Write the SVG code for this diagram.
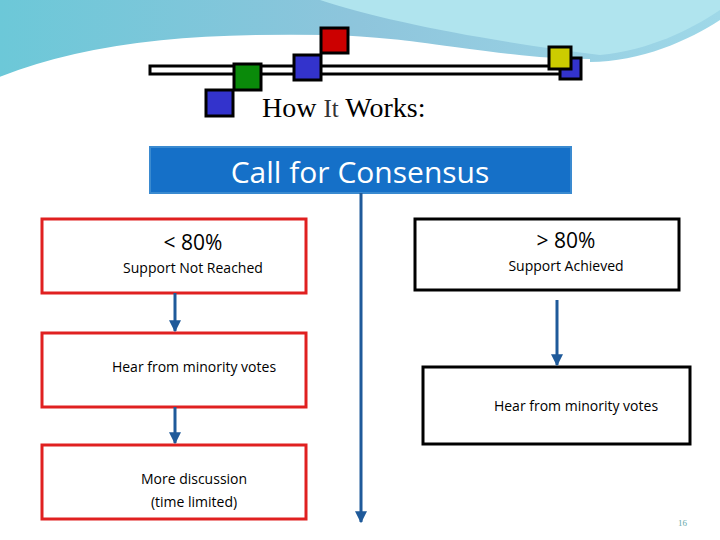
<svg xmlns="http://www.w3.org/2000/svg" width="720" height="540" viewBox="0 0 720 540">
<defs>
<linearGradient id="sky" x1="0" y1="0" x2="1" y2="0"><stop offset="0" stop-color="#6cc8d8"/><stop offset="0.5" stop-color="#8ec5dc"/><stop offset="1" stop-color="#9fd8e8"/></linearGradient>
<marker id="ah" viewBox="0 0 10 10" refX="9" refY="5" markerWidth="4" markerHeight="4" orient="auto"><path d="M0,0L10,5L0,10z" fill="#1f5a9a"/></marker>
</defs>
<style>
.rb{fill:#fff;stroke:#e02020;stroke-width:3}
.kb{fill:#fff;stroke:#000;stroke-width:3}
.t{font-family:"Open Sans","Liberation Sans",sans-serif;fill:#000}
.sq{stroke:#000;stroke-width:3}
.c{stroke:#1f5a9a;stroke-width:3;fill:none;marker-end:url(#ah)}
</style>
<rect width="720" height="540" fill="#fff"/>
<path d="M0,0H720V20C690,40 640,62 590,62C500,62 420,40 330,38C220,36 100,40 0,80Z" fill="url(#sky)"/>
<path d="M0,80C100,40 220,36 330,38C420,40 500,62 590,62" fill="none" stroke="#fff" stroke-width="6"/>
<path d="M320,0C380,20 480,40 600,55C650,50 690,30 720,10V0Z" fill="#b0e4ee"/>
<g id="header">
<rect x="150" y="66" width="422" height="8" fill="#fff" stroke="#000" stroke-width="3"/>
<rect class="sq" x="206" y="90" width="27" height="26" fill="#3333cc"/>
<rect class="sq" x="234" y="64" width="27" height="26" fill="#0a8a0a"/>
<rect class="sq" x="294" y="55" width="27" height="25" fill="#3333cc"/>
<rect class="sq" x="321" y="28" width="27" height="25" fill="#cc0000"/>
<rect class="sq" x="560" y="58" width="21" height="21" fill="#3333cc"/>
<rect class="sq" x="549" y="47" width="22" height="22" fill="#cccc00"/>
<text x="262" y="117" font-family="Liberation Serif,serif" font-size="28" fill="#000">How <tspan fill="#333" font-size="25">It</tspan> Works:</text>
</g>
<g id="consensus"><rect x="150" y="147" width="421" height="46" fill="#1570c8" stroke="#3a8ad0" stroke-width="2"/>
<text class="t" x="360" y="183" font-size="30" text-anchor="middle" fill="#fff" style="fill:#fff">Call for Consensus</text></g>
<g id="lt80"><rect class="rb" x="42" y="219" width="264" height="74"/>
<text class="t" x="193" y="250" font-size="21" text-anchor="middle">&lt; 80%</text>
<text class="t" x="193" y="273" font-size="14" text-anchor="middle">Support Not Reached</text></g>
<g id="hear1"><rect class="rb" x="42" y="333" width="264" height="74"/>
<text class="t" x="194" y="372" font-size="14" text-anchor="middle">Hear from minority votes</text></g>
<g id="more"><rect class="rb" x="42" y="445" width="264" height="74"/>
<text class="t" x="194" y="484" font-size="14" text-anchor="middle">More discussion</text>
<text class="t" x="194" y="507" font-size="14" text-anchor="middle">(time limited)</text></g>
<g id="gt80"><rect class="kb" x="415" y="219" width="264" height="71"/>
<text class="t" x="566" y="248" font-size="21" text-anchor="middle">&gt; 80%</text>
<text class="t" x="566" y="271" font-size="14" text-anchor="middle">Support Achieved</text></g>
<g id="hear2"><rect class="kb" x="423" y="367" width="267" height="77"/>
<text class="t" x="576" y="411" font-size="14" text-anchor="middle">Hear from minority votes</text></g>
<g id="connectors">
<line class="c" x1="361" y1="193" x2="361" y2="522"/>
<line class="c" x1="175" y1="293" x2="175" y2="331"/>
<line class="c" x1="175" y1="407" x2="175" y2="443"/>
<line class="c" x1="557" y1="300" x2="557" y2="365"/>
</g>
<text x="678" y="526" font-family="Liberation Serif,serif" font-size="9" fill="#6aa">16</text>
</svg>
